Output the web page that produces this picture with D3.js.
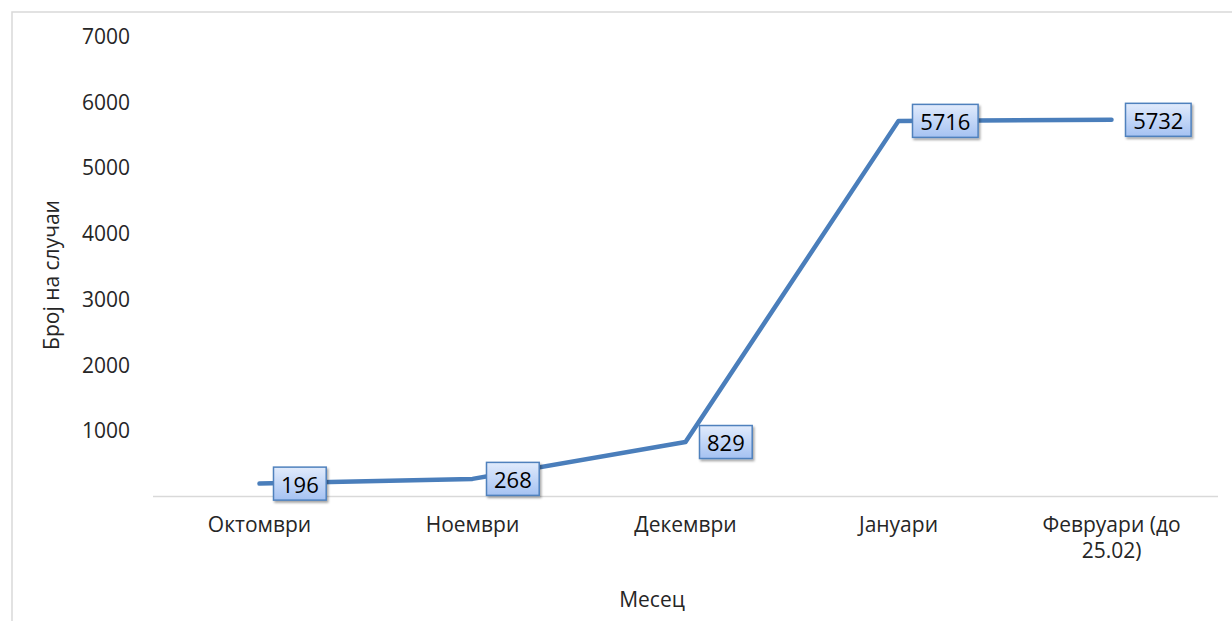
<!DOCTYPE html>
<html>
<head>
<meta charset="utf-8">
<script src="https://cdn.jsdelivr.net/npm/d3@7"></script>
<style>
  body { margin: 0; background: white; }
  #container { width: 1232px; height: 621px; }
  text { font-family: "Open Sans", sans-serif; fill: #262626; }
</style>
</head>
<body>
<div id="container"></div>
<script>
let months = ["Октомври", "Ноември", "Декември", "Јануари", "Февруари (до 25.02)"]
let cases = [196, 268, 829, 5716, 5732]
let yTicks = [1000, 2000, 3000, 4000, 5000, 6000, 7000]

let viz = d3.select("#container").append("svg")
    .attr("width", 1232)
    .attr("height", 621)

let defs = viz.append("defs")
let grad = defs.append("linearGradient")
    .attr("id", "boxFill")
    .attr("x1", 0).attr("y1", 0).attr("x2", 0).attr("y2", 1)
grad.append("stop").attr("offset", "0%").attr("stop-color", "#e1ebfc")
grad.append("stop").attr("offset", "100%").attr("stop-color", "#a5c2f2")
let shadow = defs.append("filter")
    .attr("id", "shadow")
    .attr("x", "-20%").attr("y", "-20%").attr("width", "150%").attr("height", "150%")
shadow.append("feDropShadow")
    .attr("dx", 1.5).attr("dy", 2)
    .attr("stdDeviation", 1.3)
    .attr("flood-color", "#000")
    .attr("flood-opacity", 0.35)

// chart frame (cut off right and bottom)
viz.append("rect")
    .attr("x", 12).attr("y", 12)
    .attr("width", 1240).attr("height", 640)
    .attr("fill", "none")
    .attr("stroke", "#d9d9d9")
    .attr("stroke-width", 1.5)

let x = d3.scaleBand()
    .domain(months)
    .range([153, 1218])

let y = d3.scaleLinear()
    .domain([0, 7000])
    .range([496.5, 36.5])

// x axis line
viz.append("line")
    .attr("x1", 153).attr("x2", 1218)
    .attr("y1", y(0)).attr("y2", y(0))
    .attr("stroke", "#d9d9d9")
    .attr("stroke-width", 1.5)

// y tick labels
viz.append("g").selectAll("text")
    .data(yTicks).enter()
    .append("text")
    .attr("x", 130)
    .attr("y", d => y(d))
    .attr("dy", "0.36em")
    .attr("text-anchor", "end")
    .attr("font-size", 21)
    .text(d => d)

// category labels
let catLabels = viz.append("g").selectAll("text")
    .data(months).enter()
    .append("text")
    .attr("x", d => x(d) + x.bandwidth() / 2)
    .attr("y", 532)
    .attr("text-anchor", "middle")
    .attr("font-size", 21)
catLabels.each(function(d) {
    let parts = d.indexOf("(") > 0 ? ["Февруари (до", "25.02)"] : [d]
    let t = d3.select(this)
    parts.forEach((p, i) => {
        t.append("tspan")
            .attr("x", x(d) + x.bandwidth() / 2)
            .attr("dy", i === 0 ? 0 : 26)
            .text(p)
    })
})

// axis titles
viz.append("text")
    .attr("transform", "translate(59,275) rotate(-90)")
    .attr("text-anchor", "middle")
    .attr("font-size", 21)
    .text("Број на случаи")

viz.append("text")
    .attr("x", 652)
    .attr("y", 607)
    .attr("text-anchor", "middle")
    .attr("font-size", 21)
    .text("Месец")

// the line
let line = d3.line()
    .x((d, i) => x(months[i]) + x.bandwidth() / 2)
    .y(d => y(d))

viz.append("path")
    .datum(cases)
    .attr("d", line)
    .attr("fill", "none")
    .attr("stroke", "#4a7ebb")
    .attr("stroke-width", 4.5)
    .attr("stroke-linecap", "round")
    .attr("stroke-linejoin", "round")

// data label boxes
let boxW = d => String(d).length * 12.9 + 14

let labels = viz.append("g").selectAll("g")
    .data(cases).enter()
    .append("g")
    .attr("transform", (d, i) => "translate(" + (x(months[i]) + x.bandwidth() / 2 + 14) + "," + y(d) + ")")

labels.append("rect")
    .attr("x", 0)
    .attr("y", -16.5)
    .attr("width", boxW)
    .attr("height", 33)
    .attr("fill", "url(#boxFill)")
    .attr("stroke", "#4f81bd")
    .attr("stroke-width", 1.5)
    .attr("filter", "url(#shadow)")

labels.append("text")
    .attr("x", d => boxW(d) / 2)
    .attr("y", 1)
    .attr("dy", "0.36em")
    .attr("text-anchor", "middle")
    .attr("font-size", 22)
    .style("fill", "#000")
    .text(d => d)
</script>
</body>
</html>
